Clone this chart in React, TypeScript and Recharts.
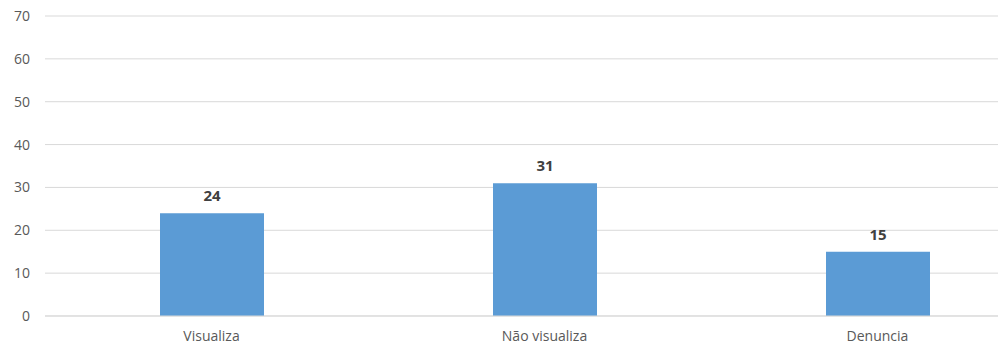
import React from 'react';
import { BarChart, Bar, XAxis, YAxis, CartesianGrid, LabelList } from 'recharts';

const categories = ['Visualiza', 'Não visualiza', 'Denuncia'];
const values = [24, 31, 15];
const yTicks = [0, 10, 20, 30, 40, 50, 60, 70];

const data = categories.map((name, i) => ({ name, value: values[i] }));

const font = '"Open Sans", "Noto Sans", sans-serif';

export default function App() {
  return (
    <div
      style={{
        position: 'absolute',
        top: 0,
        left: 0,
        width: 998,
        height: 347,
        overflow: 'hidden',
        background: '#fff',
        fontFamily: font,
      }}
    >
      <BarChart
        width={1044}
        height={347}
        data={data}
        margin={{ top: 16, right: 0, left: 0, bottom: 0 }}
        barCategoryGap={0}
      >
        <CartesianGrid stroke="#d9d9d9" vertical={false} />
        <XAxis
          dataKey="name"
          height={31}
          axisLine={{ stroke: '#d9d9d9' }}
          tickLine={false}
          tickSize={0}
          tickMargin={15}
          tick={{ fontSize: 14, fill: '#595959', fontFamily: font }}
        />
        <YAxis
          width={45}
          domain={[0, 70]}
          ticks={yTicks}
          axisLine={false}
          tickLine={false}
          tickSize={0}
          tickMargin={15}
          tick={{ fontSize: 14, fill: '#595959', fontFamily: font }}
        />
        <Bar dataKey="value" fill="#5b9bd5" barSize={104} isAnimationActive={false}>
          <LabelList
            dataKey="value"
            position="top"
            offset={12}
            style={{ fontSize: 15, fontWeight: 'bold', fill: '#404040', fontFamily: font }}
          />
        </Bar>
      </BarChart>
    </div>
  );
}
